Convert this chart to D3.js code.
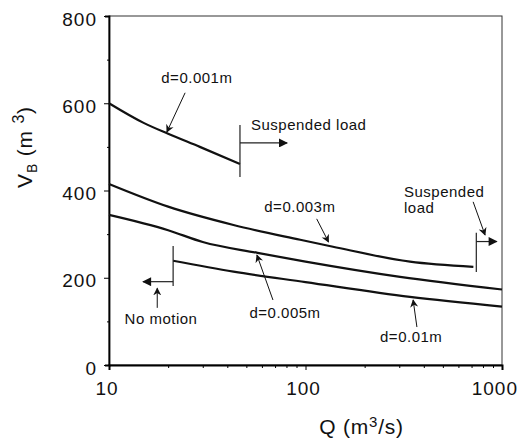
<!doctype html>
<html lang="en">
<head>
<meta charset="UTF-8">
<title>Bed volume vs discharge</title>
<script src="https://d3js.org/d3.v7.min.js"></script>
<style>
    body { margin: 0; background: #fff; }
    svg { font-family: "Liberation Sans", Arial, sans-serif; }
    .curve { fill: none; stroke: #111; stroke-width: 2.2; }
    .bound { stroke: #222; stroke-width: 1.2; }
    .note { fill: #111; font-size: 15px; letter-spacing: 0.5px; }
    .tick-label { fill: #111; font-size: 19px; letter-spacing: 1px; }
</style>
</head>
<body>
<svg width="522" height="442"></svg>
<script>
    // curves: Q (m3/s) and V_B (m3)
    const q001 = [10, 15, 20, 29, 46.4];
    const v001 = [600, 555, 530, 500, 461];
    const q003 = [10, 20, 43, 94, 138, 340, 715];
    const v003 = [415, 363, 321, 287, 271, 237, 225];
    const q005 = [10, 20, 30, 57, 100, 303, 1000];
    const v005 = [344, 309, 282, 257, 237, 202, 173];
    const q01 = [21.2, 43, 100, 340, 1000];
    const v01 = [239, 214, 190, 156, 134];

    const xTicks = [10, 100, 1000];
    const yTicks = [0, 200, 400, 600, 800];

    // limit markers: [Q, V from, V to]
    const limits = [[46.4, 550, 431], [740, 303, 213], [21.2, 273, 181]];
    // direction arrows: [Q from, Q to, V]
    const directions = [[46.4, 80.6, 509], [740, 940, 283], [21.2, 14.9, 191]];

    const labels = [
        { text: "d=0.001m", q: 28, v: 646, anchor: "middle" },
        { text: "Suspended load", q: 52.8, v: 539, anchor: "start" },
        { text: "d=0.003m", q: 93.6, v: 351, anchor: "middle" },
        { text: "Suspended", q: 317, v: 385, anchor: "start" },
        { text: "load", q: 317, v: 348, anchor: "start" },
        { text: "No motion", q: 18.4, v: 94, anchor: "middle" },
        { text: "d=0.005m", q: 78.7, v: 108, anchor: "middle" },
        { text: "d=0.01m", q: 345, v: 53, anchor: "middle" }
    ];
    // pointer arrows: [Q from, V from, Q to, V to]
    const pointers = [
        [24.4, 624, 19.7, 534],
        [114, 335, 131, 282],
        [713, 374, 820, 298],
        [17.6, 131, 17.6, 176],
        [68.3, 149, 56.6, 252],
        [369, 87, 353, 149]
    ];

    const svg = d3.select("svg");
    const margin = { top: 16, right: 20, bottom: 77, left: 109 };
    const width = 522 - margin.left - margin.right;
    const height = 442 - margin.top - margin.bottom;

    const x = d3.scaleLog().domain([10, 1000]).range([0, width]);
    const y = d3.scaleLinear().domain([0, 800]).range([height, 0]);

    const defs = svg.append("defs");
    defs.append("marker")
        .attr("id", "head")
        .attr("viewBox", "0 0 10 10")
        .attr("refX", 9).attr("refY", 5)
        .attr("markerWidth", 11).attr("markerHeight", 9)
        .attr("markerUnits", "userSpaceOnUse")
        .attr("orient", "auto")
        .append("path").attr("d", "M0,0 L10,5 L0,10 Z").attr("fill", "#111");
    defs.append("marker")
        .attr("id", "thin")
        .attr("viewBox", "0 0 10 10")
        .attr("refX", 9).attr("refY", 5)
        .attr("markerWidth", 8).attr("markerHeight", 9)
        .attr("markerUnits", "userSpaceOnUse")
        .attr("orient", "auto")
        .append("path").attr("d", "M0,0 L10,5 L0,10 L3,5 Z").attr("fill", "#111");

    const g = svg.append("g").attr("transform", `translate(${margin.left},${margin.top})`);

    // frame
    g.append("rect")
        .attr("width", width).attr("height", height)
        .attr("fill", "none").attr("stroke", "#333").attr("stroke-width", 1);

    // y axis
    const yAxis = g.append("g")
        .call(d3.axisLeft(y).tickValues(d3.range(0, 801, 100)).tickSize(4).tickFormat(""));
    yAxis.select(".domain").attr("stroke-width", 1.8);
    yAxis.selectAll(".tick line").attr("x2", d => d % 200 ? -2 : -5);
    g.selectAll(".ylab")
        .data(yTicks)
        .enter().append("text")
        .attr("class", "tick-label")
        .attr("x", -12)
        .attr("y", d => y(d))
        .attr("dy", "0.5em")
        .attr("text-anchor", "end")
        .text(d => d);

    // x axis
    const minor = d3.range(20, 100, 10).concat(d3.range(200, 1000, 100));
    const xAxis = g.append("g")
        .attr("transform", `translate(0,${height})`)
        .call(d3.axisBottom(x).tickValues(xTicks.concat(minor)).tickSize(5).tickFormat(""));
    xAxis.select(".domain").attr("stroke-width", 2);
    xAxis.selectAll(".tick line").attr("y2", d => xTicks.includes(d) ? 5 : 3);
    g.selectAll(".xlab")
        .data(xTicks)
        .enter().append("text")
        .attr("class", "tick-label")
        .attr("x", (d, i) => i === xTicks.length - 1 ? x(d) + 16 : x(d) - 2)
        .attr("y", height + 30)
        .attr("text-anchor", (d, i) => i === xTicks.length - 1 ? "end" : "middle")
        .text(d => d);

    // curves
    const line = d3.line()
        .x(d => x(d[0]))
        .y(d => y(d[1]))
        .curve(d3.curveMonotoneX);
    [[q001, v001], [q003, v003], [q005, v005], [q01, v01]].forEach(([qs, vs]) => {
        g.append("path")
            .attr("class", "curve")
            .attr("d", line(qs.map((q, i) => [q, vs[i]])));
    });

    // limit markers and direction arrows
    g.selectAll(".limit")
        .data(limits)
        .enter().append("line")
        .attr("class", "bound")
        .attr("x1", d => x(d[0])).attr("x2", d => x(d[0]))
        .attr("y1", d => y(d[1])).attr("y2", d => y(d[2]));
    g.selectAll(".dir")
        .data(directions)
        .enter().append("line")
        .attr("class", "bound")
        .attr("x1", d => x(d[0])).attr("x2", d => x(d[1]))
        .attr("y1", d => y(d[2])).attr("y2", d => y(d[2]))
        .attr("marker-end", "url(#head)");

    // annotations
    g.selectAll(".pointer")
        .data(pointers)
        .enter().append("line")
        .attr("stroke", "#111").attr("stroke-width", 1)
        .attr("x1", d => x(d[0])).attr("y1", d => y(d[1]))
        .attr("x2", d => x(d[2])).attr("y2", d => y(d[3]))
        .attr("marker-end", "url(#thin)");
    g.selectAll(".note")
        .data(labels)
        .enter().append("text")
        .attr("class", "note")
        .attr("x", d => x(d.q))
        .attr("y", d => y(d.v))
        .attr("text-anchor", d => d.anchor)
        .text(d => d.text);

    // axis titles
    const xt = svg.append("text")
        .attr("x", margin.left + x(100) + 56)
        .attr("y", 434)
        .attr("text-anchor", "middle")
        .attr("font-size", 21)
        .attr("letter-spacing", 0.8)
        .attr("fill", "#111");
    xt.append("tspan").text("Q (m");
    xt.append("tspan").attr("dy", -7).attr("font-size", 15).text("3");
    xt.append("tspan").attr("dy", 7).text("/s)");

    const yt = svg.append("text")
        .attr("transform", `translate(32,147) rotate(-90)`)
        .attr("text-anchor", "middle")
        .attr("font-size", 21)
        .attr("letter-spacing", 0.8)
        .attr("fill", "#111");
    yt.append("tspan").text("V");
    yt.append("tspan").attr("dy", 5).attr("font-size", 14).text("B");
    yt.append("tspan").attr("dy", -5).text(" (m ");
    yt.append("tspan").attr("dy", -8).attr("font-size", 16).text("3");
    yt.append("tspan").attr("dy", 8).text(")");
</script>
</body>
</html>
